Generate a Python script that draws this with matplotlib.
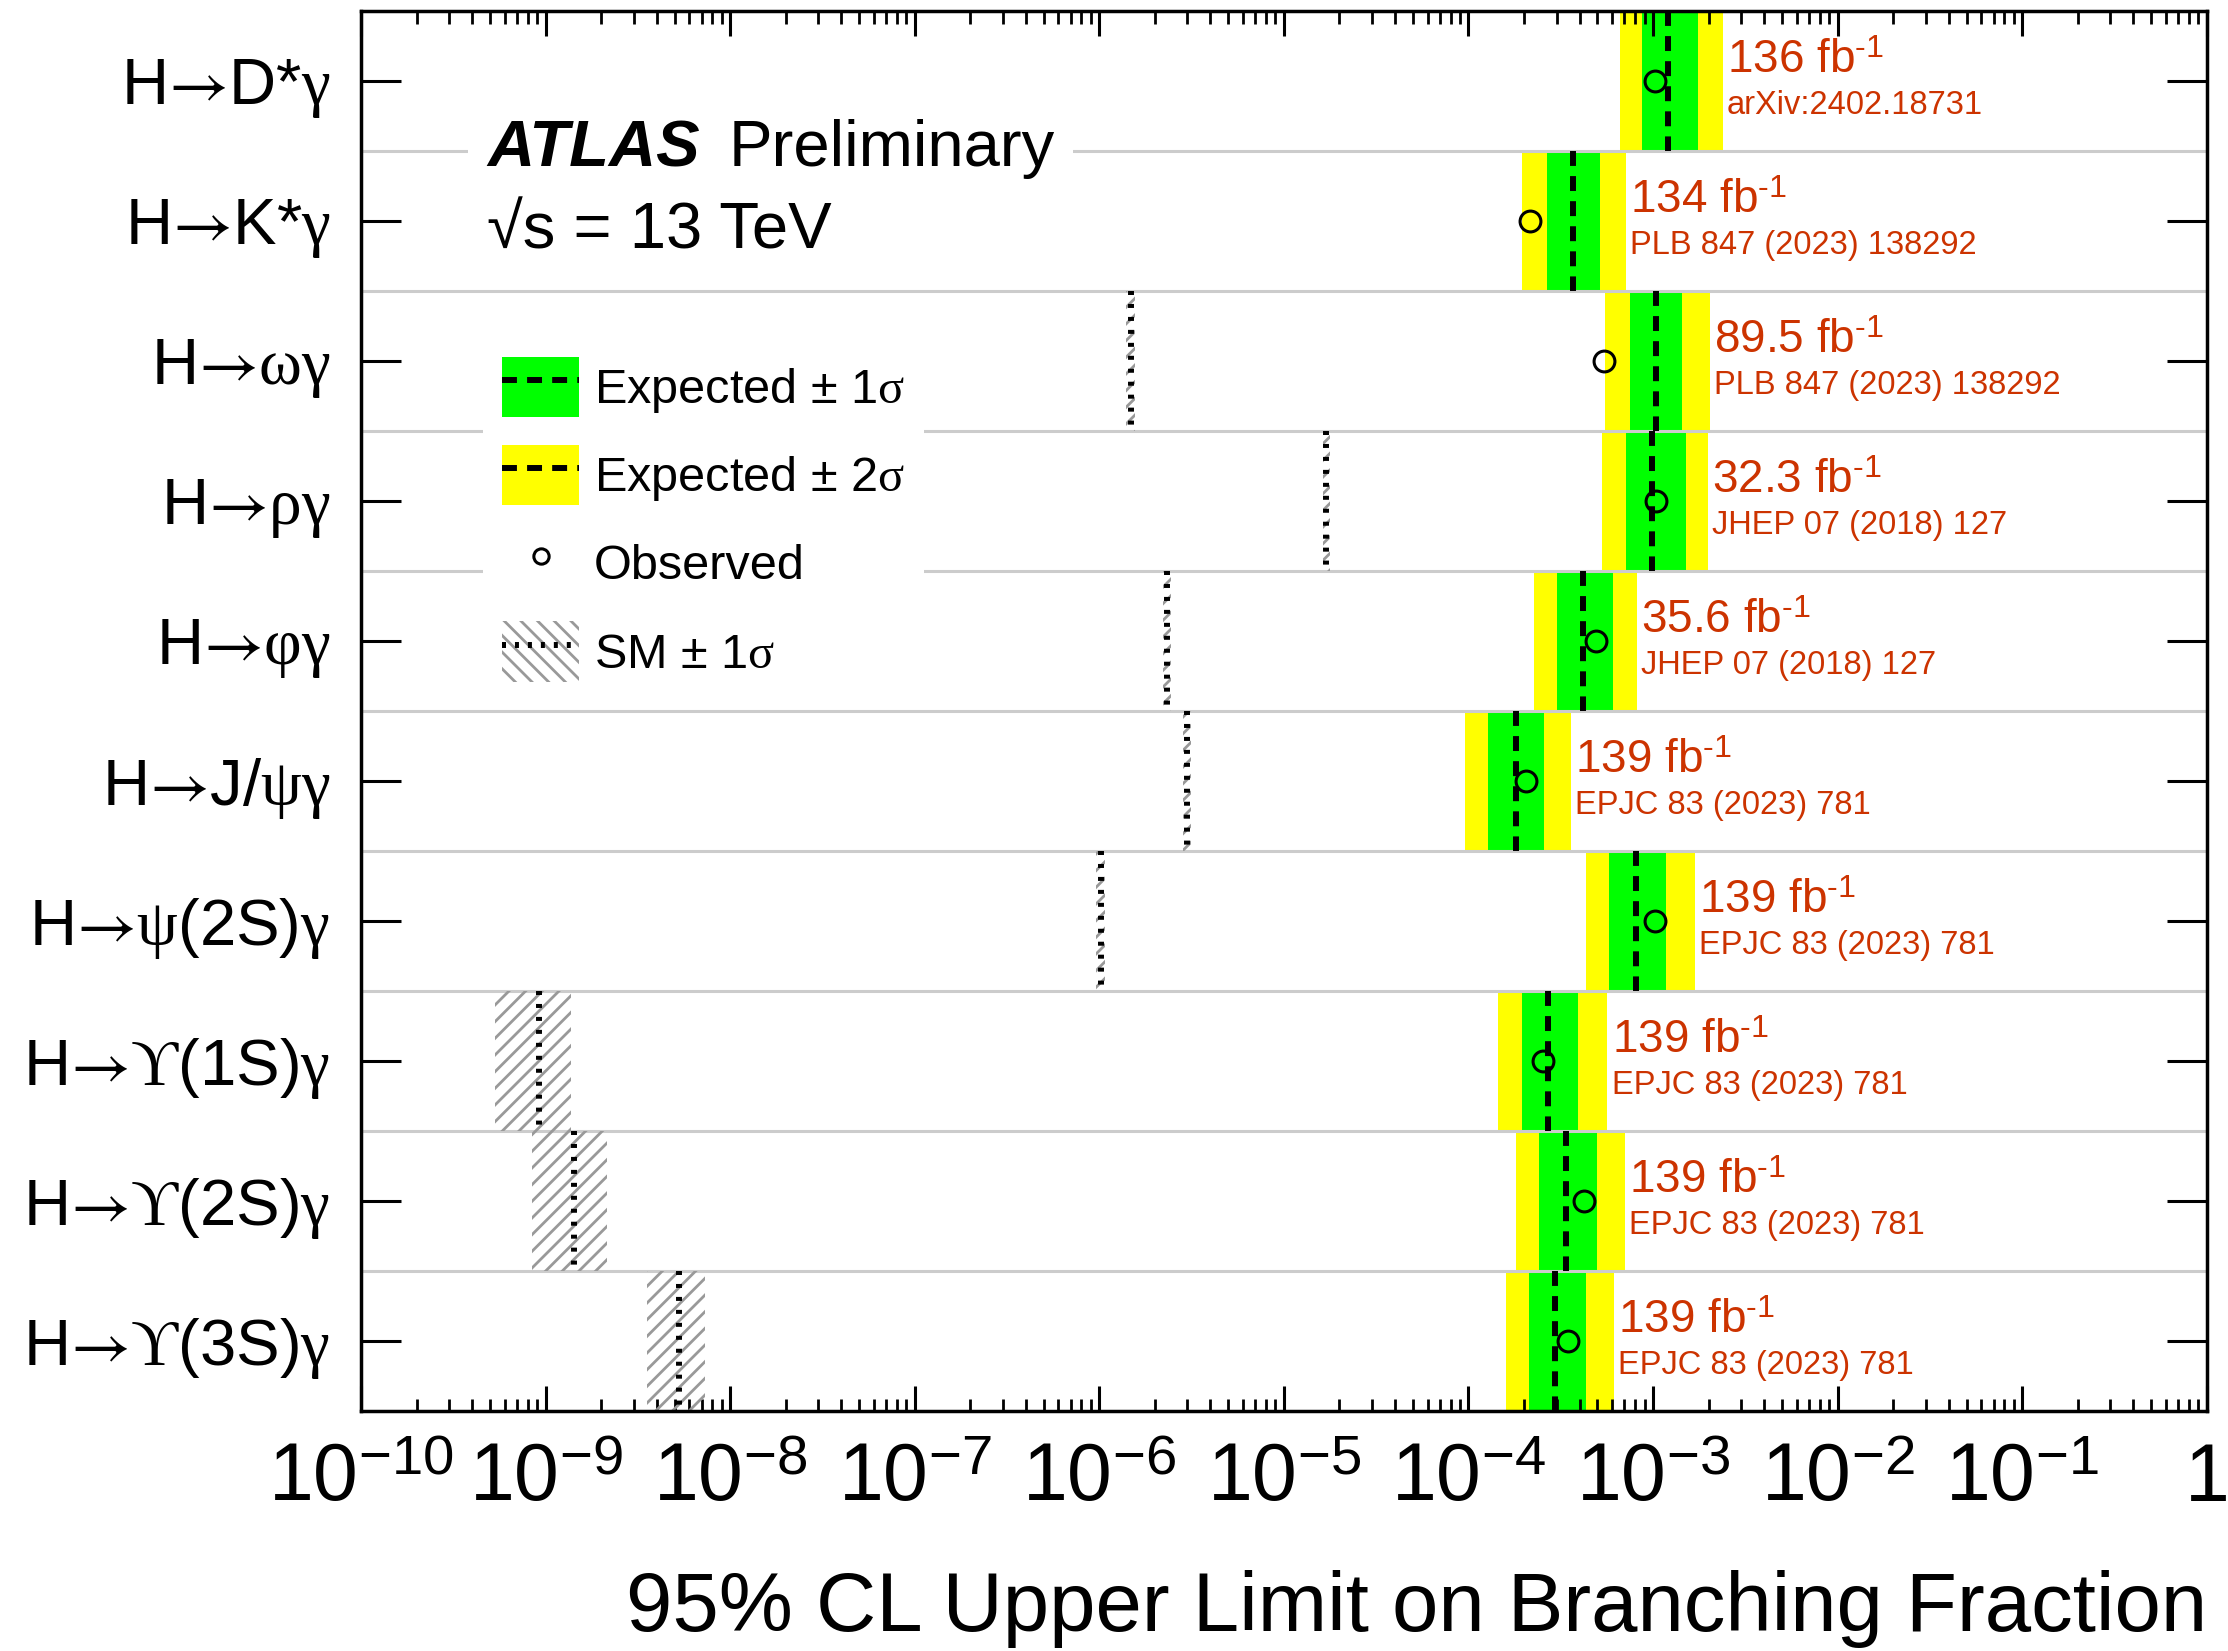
"""
Upper limits on exclusive H -> meson + photon decays, ATLAS style summary plot.
"""

import numpy as np
import matplotlib

matplotlib.use("Agg")
import matplotlib.pyplot as plt
from matplotlib.lines import Line2D
from matplotlib.patches import Patch, Rectangle
from matplotlib.ticker import LogLocator, NullFormatter, FuncFormatter

plt.rcParams["font.family"] = ["Liberation Sans", "DejaVu Sans"]
plt.rcParams["mathtext.fontset"] = "custom"
plt.rcParams["mathtext.rm"] = "Liberation Sans"
plt.rcParams["mathtext.sf"] = "Liberation Sans"
plt.rcParams["mathtext.it"] = "Liberation Serif"
plt.rcParams["mathtext.bf"] = "Liberation Sans:bold"
plt.rcParams["mathtext.cal"] = "STIXGeneral"
plt.rcParams["mathtext.fallback"] = "stix"
plt.rcParams["hatch.linewidth"] = 2.0

ARROW = r"$\mathcal{→}$"

# channels, top to bottom
CHANNELS = [
    "H" + ARROW + r"D*$\gamma$",
    "H" + ARROW + r"K*$\gamma$",
    "H" + ARROW + r"$\omega\gamma$",
    "H" + ARROW + r"$\rho\gamma$",
    "H" + ARROW + r"$\varphi\gamma$",
    "H" + ARROW + r"J/$\psi\gamma$",
    "H" + ARROW + r"$\psi$(2S)$\gamma$",
    "H" + ARROW + r"$ϒ$(1S)$\gamma$",
    "H" + ARROW + r"$ϒ$(2S)$\gamma$",
    "H" + ARROW + r"$ϒ$(3S)$\gamma$",
]

# expected limit and bands
EXP_M2 = np.array([6.6e-4, 1.96e-4, 5.52e-4, 5.29e-4, 2.26e-4, 9.6e-5, 4.31e-4, 1.45e-4, 1.82e-4, 1.60e-4])
EXP_M1 = np.array([8.7e-4, 2.66e-4, 7.48e-4, 7.16e-4, 3.01e-4, 1.28e-4, 5.80e-4, 1.94e-4, 2.41e-4, 2.14e-4])
EXPECTED = np.array([1.21e-3, 3.69e-4, 1.04e-3, 9.9e-4, 4.15e-4, 1.80e-4, 8.11e-4, 2.69e-4, 3.36e-4, 2.95e-4])
EXP_P1 = np.array([1.75e-3, 5.19e-4, 1.43e-3, 1.50e-3, 6.05e-4, 2.58e-4, 1.17e-3, 3.93e-4, 4.94e-4, 4.31e-4])
EXP_P2 = np.array([2.39e-3, 7.11e-4, 2.04e-3, 1.98e-3, 8.15e-4, 3.60e-4, 1.69e-3, 5.66e-4, 7.03e-4, 6.13e-4])
OBSERVED = np.array([1.03e-3, 2.15e-4, 5.45e-4, 1.04e-3, 4.91e-4, 2.04e-4, 1.03e-3, 2.52e-4, 4.21e-4, 3.45e-4])

# SM predictions (only from omega gamma downwards)
SM_ROWS = np.arange(2, 10)
SM = np.array([1.48e-6, 1.70e-5, 2.33e-6, 2.99e-6, 1.02e-6, 9.2e-10, 1.43e-9, 5.26e-9])
SM_LO = np.array([1.40e-6, 1.62e-5, 2.22e-6, 2.84e-6, 0.96e-6, 5.3e-10, 8.5e-10, 3.56e-9])
SM_HI = np.array([1.56e-6, 1.78e-5, 2.44e-6, 3.14e-6, 1.08e-6, 1.38e-9, 2.16e-9, 7.30e-9])

LUMI = ["136", "134", "89.5", "32.3", "35.6", "139", "139", "139", "139", "139"]
REFS = ["arXiv:2402.18731", "PLB 847 (2023) 138292", "PLB 847 (2023) 138292",
        "JHEP 07 (2018) 127", "JHEP 07 (2018) 127", "EPJC 83 (2023) 781",
        "EPJC 83 (2023) 781", "EPJC 83 (2023) 781", "EPJC 83 (2023) 781", "EPJC 83 (2023) 781"]

GREEN = "#00ff00"
YELLOW = "#ffff00"
REF_COLOR = "#cc3300"
HATCH_COLOR = "#999999"
DASHED = (0, (2.5, 1.7))
DOTTED = (0, (0.67, 1.5))


def decade_label(v, pos):
    e = int(round(np.log10(v)))
    return "1" if e == 0 else r"$10^{%d}$" % e


fig = plt.figure(figsize=(22.28, 16.51), dpi=100)
ax = fig.add_axes([0.162, 0.1454, 0.8285, 0.848])
rows = np.arange(len(CHANNELS))

# expected +-2 sigma and +-1 sigma bands
ax.barh(rows, EXP_P2 - EXP_M2, left=EXP_M2, height=1.0, color=YELLOW, lw=0, zorder=1)
ax.barh(rows, EXP_P1 - EXP_M1, left=EXP_M1, height=1.0, color=GREEN, lw=0, zorder=1.1)

# row separators
for b in rows[:-1] + 0.5:
    ax.axhline(b, color="#cccccc", lw=2.2, zorder=1.5)

# SM prediction with uncertainty
ax.barh(SM_ROWS, SM_HI - SM_LO, left=SM_LO, height=1.0, facecolor="none",
        edgecolor=HATCH_COLOR, hatch="//", lw=0, zorder=2)
ax.vlines(SM, SM_ROWS - 0.5, SM_ROWS + 0.5, colors="k", linestyles=[DOTTED], lw=4.3, zorder=3)

ax.vlines(EXPECTED, rows - 0.5, rows + 0.5, colors="k", linestyles=[DASHED], lw=4.3, zorder=3)
ax.plot(OBSERVED, rows, ls="none", marker="o", ms=15, mfc="none", mec="k", mew=2.2, zorder=4)

for i in rows:
    ax.annotate(LUMI[i] + r" fb$^{\text{-}1}$", (EXP_P2[i], i), xytext=(3, 6),
                textcoords="offset points", color=REF_COLOR, fontsize=33,
                ha="left", va="baseline", zorder=6)
    ax.annotate(REFS[i], (EXP_P2[i], i), xytext=(3, -24), textcoords="offset points",
                color=REF_COLOR, fontsize=23.5, ha="left", va="baseline", zorder=6)

ax.set_xscale("log")
ax.set_xlim(1e-10, 1)
ax.set_ylim(9.5, -0.5)
ax.set_yticks(rows)
ax.set_yticklabels(CHANNELS, fontsize=47)

ax.xaxis.set_major_locator(LogLocator(base=10, numticks=20))
ax.xaxis.set_minor_locator(LogLocator(base=10, subs=np.arange(2, 10), numticks=200))
ax.xaxis.set_minor_formatter(NullFormatter())
ax.xaxis.set_major_formatter(FuncFormatter(decade_label))
ax.tick_params(axis="x", which="major", direction="in", top=True, length=18, width=2.2,
               labelsize=58, pad=22)
ax.tick_params(axis="x", which="minor", direction="in", top=True, length=9, width=2.0)
ax.tick_params(axis="y", which="major", direction="in", right=True, length=29, width=2.2, pad=22)
ax.tick_params(axis="y", which="minor", left=False, right=False)
for s in ax.spines.values():
    s.set_linewidth(2.5)

ax.set_xlabel("95% CL Upper Limit on Branching Fraction", fontsize=60, loc="right", labelpad=38)

# label block
ax.add_patch(Rectangle((0.058, 0.815), 0.328, 0.136, transform=ax.transAxes,
                       facecolor="white", edgecolor="none", zorder=1.8))
ax.text(0.0683, 0.889, "ATLAS", transform=ax.transAxes, fontsize=47,
        fontweight="bold", fontstyle="italic", va="baseline", zorder=6)
ax.text(0.1994, 0.889, "Preliminary", transform=ax.transAxes, fontsize=47,
        va="baseline", zorder=6)
ax.text(0.0683, 0.830, "√s = 13 TeV", transform=ax.transAxes, fontsize=47,
        va="baseline", zorder=6)

handles = [
    (Patch(facecolor=GREEN, edgecolor="none"), Line2D([], [], color="k", ls=DASHED, lw=4.3)),
    (Patch(facecolor=YELLOW, edgecolor="none"), Line2D([], [], color="k", ls=DASHED, lw=4.3)),
    Line2D([], [], ls="none", marker="o", ms=11, mfc="none", mec="k", mew=2.2),
    (Patch(facecolor="none", edgecolor=HATCH_COLOR, hatch="\\\\", lw=0),
     Line2D([], [], color="k", ls=DOTTED, lw=4.3)),
]
labels = [r"Expected $\pm$ 1$\sigma$", r"Expected $\pm$ 2$\sigma$", "Observed", r"SM $\pm$ 1$\sigma$"]
ax.legend(handles, labels, loc="upper left", bbox_to_anchor=(0.066, 0.767), fontsize=35,
          frameon=True, fancybox=False, edgecolor="none", facecolor="white", framealpha=1,
          borderpad=0.4, borderaxespad=0, handlelength=1.58, handleheight=1.54,
          handletextpad=0.3, labelspacing=0.57)

fig.savefig("out.png", dpi=100)
